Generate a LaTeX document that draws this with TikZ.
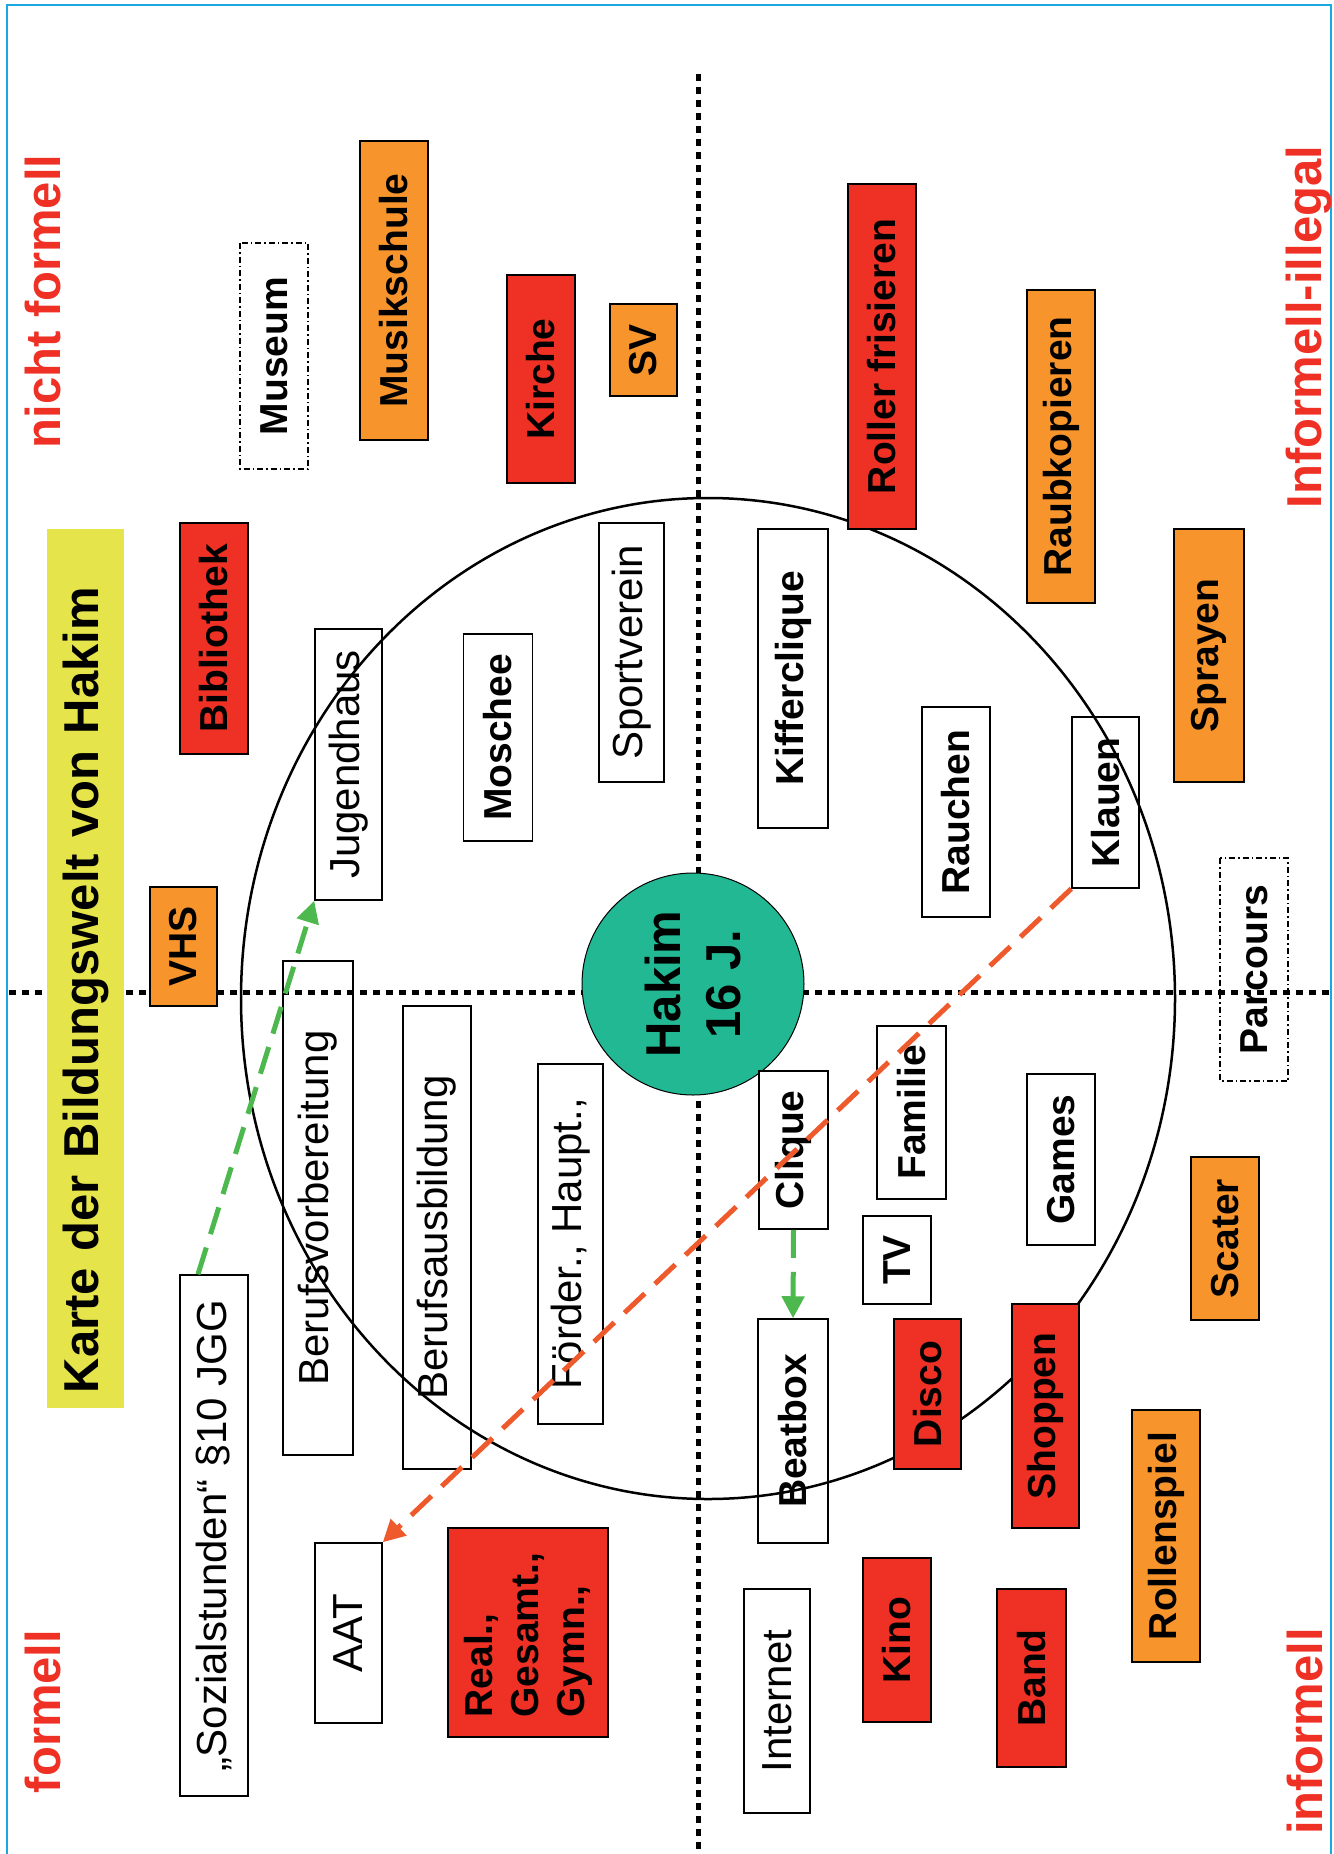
\documentclass[tikz,border=0pt]{standalone}
\usepackage{fontspec}
\setmainfont{Liberation Sans}
\usetikzlibrary{arrows.meta}

\definecolor{bwred}{HTML}{EE3124}
\definecolor{bworange}{HTML}{F7952C}
\definecolor{bwyellow}{HTML}{E5E44A}
\definecolor{bwteal}{HTML}{22B894}
\definecolor{bwgreen}{HTML}{4DB84E}
\definecolor{bwarrow}{HTML}{EE5A2C}
\definecolor{bwframe}{HTML}{1BA8E2}

\begin{document}
\begin{tikzpicture}[x=1pt,y=-1pt,
    box/.style={draw=black, line width=1.5pt, rotate=90, inner sep=0pt,
        font=\fontsize{39}{46}\selectfont\bfseries},
    thinbox/.style={box, font=\fontsize{42}{48}\selectfont},
    redbox/.style={box, fill=bwred},
    orangebox/.style={box, fill=bworange},
    dashbox/.style={box, dash pattern=on 6pt off 3pt on 1.5pt off 3pt},
    area/.style={text=bwred, rotate=90, anchor=base, inner sep=0pt,
        font=\fontsize{49}{60}\selectfont\bfseries},
    axis/.style={line width=5pt, dash pattern=on 7pt off 6pt},
    link/.style={line width=5pt, dash pattern=on 28pt off 14pt,
        -{Triangle[length=22pt,width=22pt]}}]
    \useasboundingbox (0,0) rectangle (1333,1854);
    \draw[bwframe, line width=2pt] (7,1854) -- (7,5) -- (1331,5) -- (1331,1854);

    % quadrant axes
    \coordinate (vtop) at (698,74);
    \coordinate (vbot) at (698,1854);
    \coordinate (hleft) at (9,992);
    \coordinate (hright) at (1333,992);
    \draw[axis] (vtop) -- (vbot);
    \draw[axis] (hleft) -- (hright);

    \draw[line width=2.5pt] (708,998.5) ellipse [x radius=467, y radius=500.5];
    \node[circle, draw=black, line width=1pt, fill=bwteal, minimum size=222pt,
        inner sep=0pt, rotate=90, align=center,
        font=\fontsize{49}{60}\selectfont\bfseries] (hakim) at (693,984) {Hakim\\16 J.};

    % corner labels
    \node[area] (nichtformell) at (60,301.5) {nicht formell};
    \node[area] (formell) at (60,1711.5) {formell};
    \node[area] (illegal) at (1321,327) {Informell-illegal};
    \node[area] (informell) at (1322,1731.5) {informell};

    \node[fill=bwyellow, rotate=90, inner sep=15pt, text width=849pt, align=left,
        minimum height=77pt, font=\fontsize{49}{60}\selectfont\bfseries]
        (title) at (85.5,968.5) {Karte der Bildungswelt von Hakim};

    % nicht formell
    \node[dashbox, minimum width=226pt, minimum height=68pt] (museum) at (274,356) {Museum};
    \node[orangebox, minimum width=299pt, minimum height=68pt] (musik) at (394,290.5) {Musikschule};
    \node[redbox, minimum width=208pt, minimum height=68pt] (kirche) at (541,379) {Kirche};
    \node[orangebox, minimum width=92pt, minimum height=67pt] (sv) at (643.5,350) {SV};
    \node[redbox, minimum width=231pt, minimum height=68pt] (biblio) at (214,638.5) {Bibliothek};
    \node[thinbox, minimum width=271pt, minimum height=67pt] (jugend) at (348.5,764.5) {Jugendhaus};
    \node[box, minimum width=207pt, minimum height=69pt] (moschee) at (498,737.5) {Moschee};
    \node[thinbox, minimum width=259pt, minimum height=65pt] (sport) at (631.5,652.5) {Sportverein};
    \node[orangebox, minimum width=119pt, minimum height=67pt] (vhs) at (183.5,946.5) {VHS};

    % informell-illegal
    \node[redbox, minimum width=345pt, minimum height=68pt] (roller) at (882,356.5) {Roller frisieren};
    \node[orangebox, minimum width=313pt, minimum height=68pt] (raub) at (1061,446.5) {Raubkopieren};
    \node[orangebox, minimum width=253pt, minimum height=70pt] (sprayen) at (1209,655.5) {Sprayen};
    \node[box, minimum width=299pt, minimum height=70pt] (kiffer) at (793,678.5) {Kifferclique};
    \node[box, minimum width=210pt, minimum height=68pt] (rauchen) at (956,812) {Rauchen};
    \node[box, minimum width=171pt, minimum height=67pt] (klauen) at (1105.5,802.5) {Klauen};
    \node[dashbox, minimum width=223pt, minimum height=68pt] (parcours) at (1254,969.5) {Parcours};

    % formell
    \node[thinbox, minimum width=494pt, minimum height=70pt] (vorb) at (318,1208) {Berufsvorbereitung};
    \node[thinbox, minimum width=463pt, minimum height=68pt] (ausb) at (437,1237.5) {Berufsausbildung};
    \node[thinbox, minimum width=360pt, minimum height=65pt] (foerder) at (570.5,1244) {Förder., Haupt.,};
    \node[thinbox, minimum width=521pt, minimum height=68pt] (sozial) at (214,1535.5) {„Sozialstunden“ §10 JGG};
    \node[thinbox, minimum width=180pt, minimum height=67pt] (aat) at (348.5,1633) {AAT};
    \node[redbox, minimum width=209pt, minimum height=160pt, text width=170pt, align=left]
        (schulen) at (528,1632.5) {Real.,\\Gesamt.,\\Gymn.,};

    % informell
    \node[box, fill=white, minimum width=158pt, minimum height=69pt] (clique) at (793.5,1150) {Clique};
    \node[box, minimum width=173pt, minimum height=69pt] (familie) at (911.5,1112.5) {Familie};
    \node[box, minimum width=88pt, minimum height=68pt] (tv) at (897,1260) {TV};
    \node[box, minimum width=171pt, minimum height=68pt] (games) at (1061,1159.5) {Games};
    \node[orangebox, minimum width=163pt, minimum height=68pt] (scater) at (1225,1238.5) {Scater};
    \node[box, minimum width=224pt, minimum height=70pt] (beatbox) at (793,1431) {Beatbox};
    \node[redbox, minimum width=150pt, minimum height=67pt] (disco) at (927.5,1394) {Disco};
    \node[redbox, minimum width=224pt, minimum height=67pt] (shoppen) at (1045.5,1416) {Shoppen};
    \node[orangebox, minimum width=252pt, minimum height=68pt] (rollen) at (1166,1536) {Rollenspiel};
    \node[thinbox, minimum width=224pt, minimum height=66pt] (internet) at (777,1701) {Internet};
    \node[redbox, minimum width=164pt, minimum height=68pt] (kino) at (897,1640) {Kino};
    \node[redbox, minimum width=178pt, minimum height=69pt] (band) at (1031.5,1678) {Band};

    % transitions
    \draw[link, bwgreen] ([xshift=-16pt]sozial.east) -- (jugend.north west);
    \draw[link, bwgreen] (clique.west) -- (beatbox.east);
    \draw[link, bwarrow] (klauen.north west) -- (aat.south east);
\end{tikzpicture}
\end{document}
